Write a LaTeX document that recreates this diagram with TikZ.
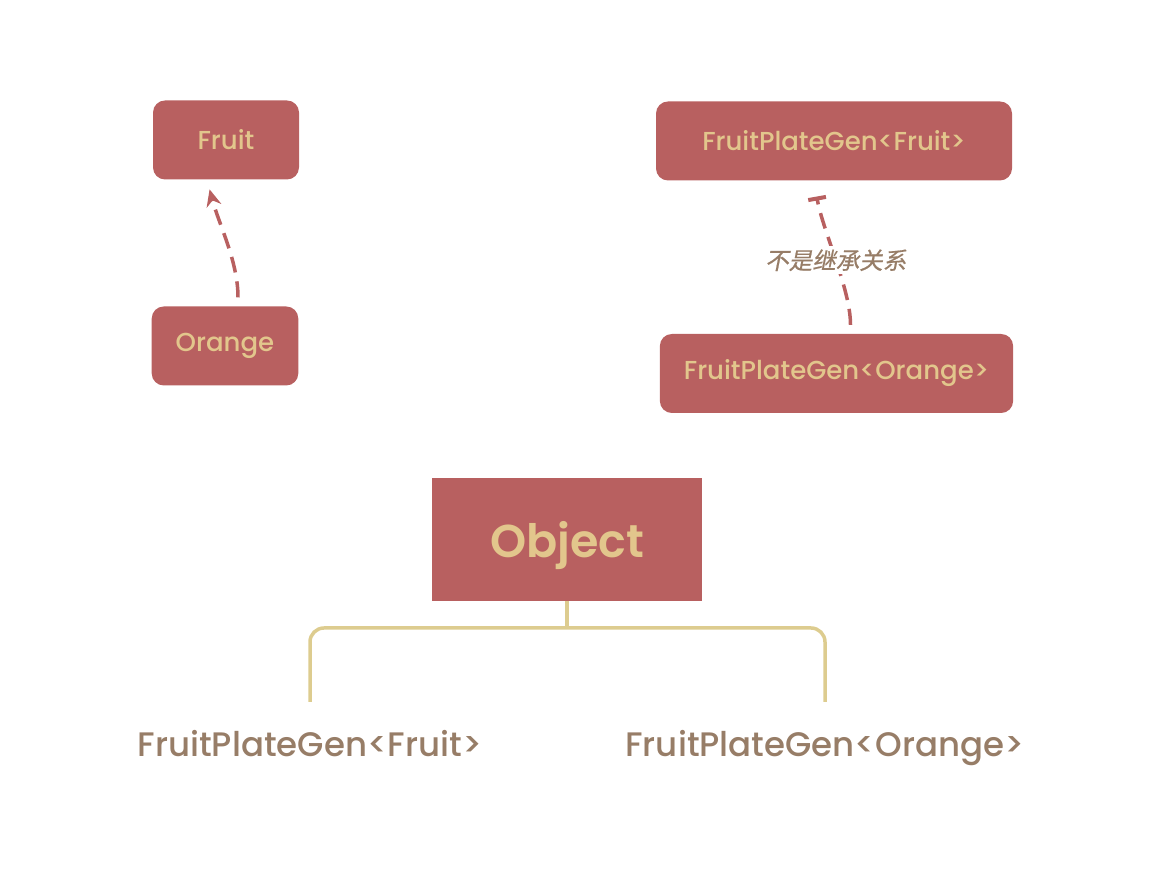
\documentclass[tikz,border=0pt]{standalone}
\usepackage{fontspec}
\setmainfont{Poppins}[UprightFont=* Medium,BoldFont=* SemiBold]
\newfontfamily\cjk[FakeSlant=0.2,FakeBold=0.6]{Noto Sans CJK SC}
\usetikzlibrary{positioning,arrows.meta}
\definecolor{boxred}{HTML}{B86060}
\definecolor{boxtext}{HTML}{E2C68C}
\definecolor{plaintext}{HTML}{977D67}
\definecolor{linkline}{HTML}{DDCC8F}
\tikzset{
	classbox/.style={fill=boxred,text=boxtext,rounded corners=12pt,minimum height=79pt,inner xsep=24pt,font=\fontsize{26}{30}\selectfont},
	typename/.style={text=plaintext,anchor=base,font=\fontsize{34}{38}\selectfont},
	notinherit/.style={draw=boxred,line width=3.5pt,dashed,dash pattern=on 16pt off 9pt,shorten <=9pt,shorten >=10pt}
}
\begin{document}
\begin{tikzpicture}[x=1pt,y=1pt,>={Stealth[length=17pt,width=15pt]}]
	\useasboundingbox (0,0) rectangle (1160,890);
	\node[classbox,minimum width=146pt] (fruit) at (226,750) {Fruit};
	\node[classbox,minimum width=144pt] (orange) at (225,544) {Orange};
	\node[classbox,minimum width=356pt] (genfruit) at (834,749) {FruitPlateGen<Fruit>};
	\node[classbox,minimum width=353pt] (genorange) at (836.5,516.5) {FruitPlateGen<Orange>};
	\node[fill=boxred,text=boxtext,minimum width=270pt,minimum height=123pt,text depth=0pt,font=\fontsize{46}{52}\selectfont\bfseries] (object) at (567,350.5) {Object};
	\node[typename] (leftname) at (310,133) {FruitPlateGen<Fruit>};
	\node[typename] (rightname) at (825,133) {FruitPlateGen<Orange>};
	% dashed links between the classes
	\draw[notinherit,->] ([xshift=13pt]orange.north) .. controls +(0,45) and +(12,-45) .. ([xshift=-19pt]fruit.south);
	\draw[notinherit,-{Bar[width=18pt,line width=4pt]}] ([xshift=14pt]genorange.north) .. controls +(0,45) and +(8,-45) .. ([xshift=-19pt,yshift=-6pt]genfruit.south)
		node[pos=0.5,fill=white,text=plaintext,inner sep=3pt,font=\cjk\fontsize{23.5}{26}\selectfont]{不是继承关系};
	% bracket under Object
	\coordinate (fork) at (object.south|-0,262);
	\draw[linkline,line width=3.5pt] (object.south) -- (fork);
	\draw[linkline,line width=3.5pt,rounded corners=14pt] (leftname.north|-0,188) |- (fork) -| (rightname.north|-0,188);
\end{tikzpicture}
\end{document}
